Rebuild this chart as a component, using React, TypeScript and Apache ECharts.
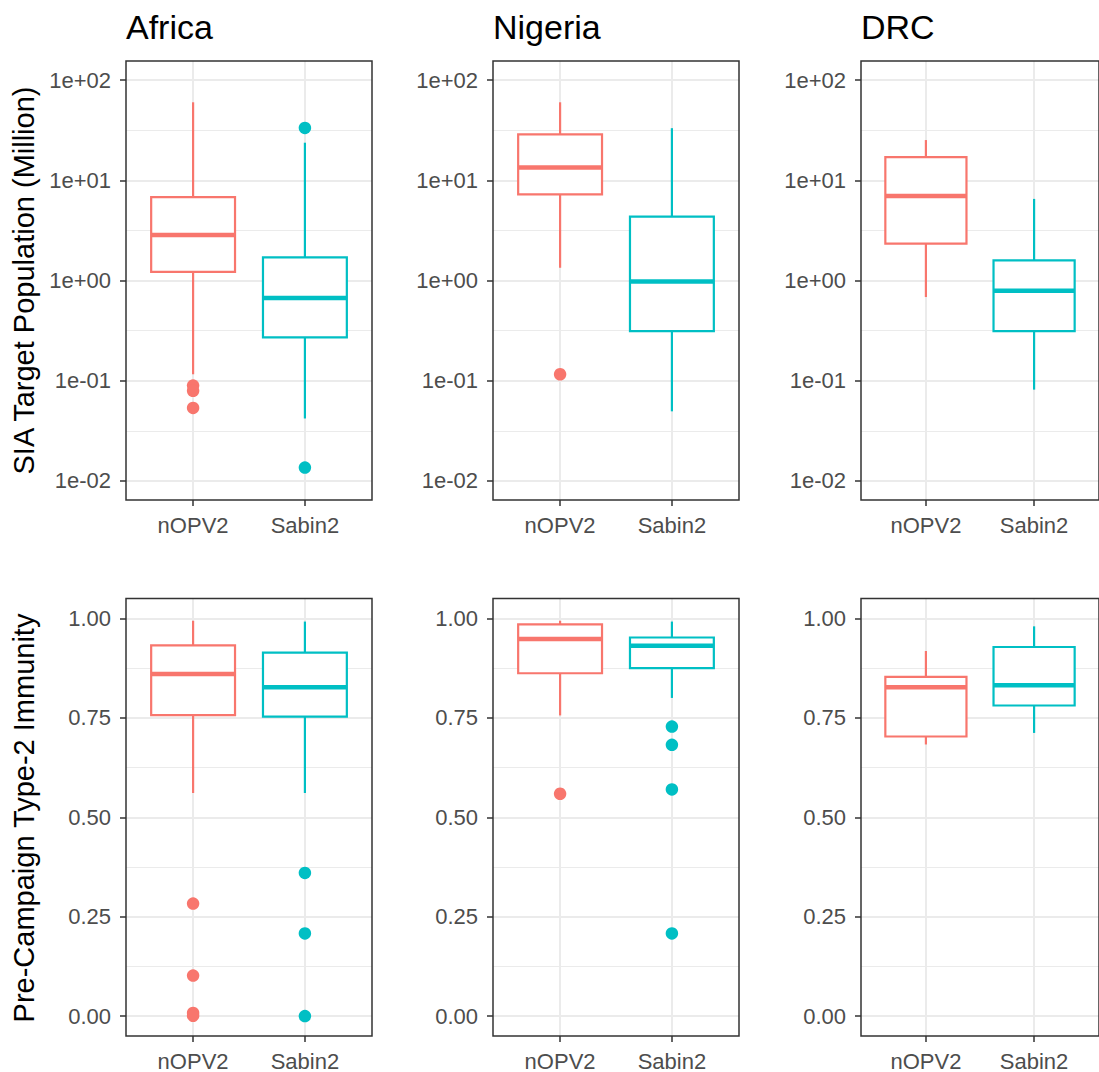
import React, { useEffect, useRef } from 'react';
import * as echarts from 'echarts';

// ---------- data ----------
const regions = ['Africa', 'Nigeria', 'DRC'];
const groups = ['nOPV2', 'Sabin2'];
const groupColors = ['#F8766D', '#00BFC4'];

// box stats: [lower whisker, Q1, median, Q3, upper whisker]
// SIA target population (million), log scale
const popAfricaNopv2 = [0.116, 1.22, 2.84, 6.8, 60];
const popAfricaSabin2 = [0.042, 0.271, 0.668, 1.7, 23.7];
const popNigeriaNopv2 = [1.34, 7.24, 13.4, 28.7, 60];
const popNigeriaSabin2 = [0.0495, 0.313, 0.977, 4.33, 33.1];
const popDrcNopv2 = [0.684, 2.33, 6.95, 17.0, 25.2];
const popDrcSabin2 = [0.0815, 0.313, 0.789, 1.585, 6.52];

const popOutAfricaNopv2 = [0.0895, 0.0794, 0.0535];
const popOutAfricaSabin2 = [33.3, 0.0136];
const popOutNigeriaNopv2 = [0.116];
const popOutNigeriaSabin2: number[] = [];
const popOutDrcNopv2: number[] = [];
const popOutDrcSabin2: number[] = [];

// pre-campaign type-2 immunity
const immAfricaNopv2 = [0.561, 0.757, 0.86, 0.932, 0.994];
const immAfricaSabin2 = [0.561, 0.753, 0.827, 0.914, 0.992];
const immNigeriaNopv2 = [0.756, 0.862, 0.948, 0.985, 0.994];
const immNigeriaSabin2 = [0.8, 0.875, 0.931, 0.952, 0.992];
const immDrcNopv2 = [0.683, 0.703, 0.827, 0.853, 0.918];
const immDrcSabin2 = [0.712, 0.781, 0.832, 0.928, 0.98];

const immOutAfricaNopv2 = [0.283, 0.102, 0.008, 0.001];
const immOutAfricaSabin2 = [0.36, 0.208, 0.0];
const immOutNigeriaNopv2 = [0.559];
const immOutNigeriaSabin2 = [0.728, 0.682, 0.57, 0.208];
const immOutDrcNopv2: number[] = [];
const immOutDrcSabin2: number[] = [];

const popTicks = [0.01, 0.1, 1, 10, 100];
const immTicks = [0, 0.25, 0.5, 0.75, 1];

const yTitles = ['SIA Target Population (Million)', 'Pre-Campaign Type-2 Immunity'];

// ---------- layout ----------
const FONT = "'Liberation Sans', Arial, Helvetica, sans-serif";
const COL_LEFT = [126, 493, 861];
const ROW_TOP = [61, 598.5];
const GRID_W = 246;
const GRID_H = 439;
const BOX_HALF = 0.375;

const panels = [
  { stats: [popAfricaNopv2, popAfricaSabin2], outs: [popOutAfricaNopv2, popOutAfricaSabin2], log: true },
  { stats: [popNigeriaNopv2, popNigeriaSabin2], outs: [popOutNigeriaNopv2, popOutNigeriaSabin2], log: true },
  { stats: [popDrcNopv2, popDrcSabin2], outs: [popOutDrcNopv2, popOutDrcSabin2], log: true },
  { stats: [immAfricaNopv2, immAfricaSabin2], outs: [immOutAfricaNopv2, immOutAfricaSabin2], log: false },
  { stats: [immNigeriaNopv2, immNigeriaSabin2], outs: [immOutNigeriaNopv2, immOutNigeriaSabin2], log: false },
  { stats: [immDrcNopv2, immDrcSabin2], outs: [immOutDrcNopv2, immOutDrcSabin2], log: false },
];

function fmtSci(v: number) {
  const e = Math.round(Math.log10(v));
  return '1e' + (e < 0 ? '-' : '+') + String(Math.abs(e)).padStart(2, '0');
}

function buildOption() {
  const grid: any[] = [];
  const xAxis: any[] = [];
  const yAxis: any[] = [];
  const series: any[] = [];
  const majorGrid = { show: true, lineStyle: { color: '#EBEBEB', width: 2 } };
  const tickStyle = { show: true, length: 6, lineStyle: { color: '#333333', width: 1.5 } };
  const labelStyle = { color: '#4D4D4D', fontSize: 22, fontFamily: FONT };

  panels.forEach((p, i) => {
    const row = Math.floor(i / 3);
    const col = i % 3;
    grid.push({
      left: COL_LEFT[col], top: ROW_TOP[row], width: GRID_W, height: GRID_H,
      show: true, borderColor: '#333333', borderWidth: 1.5, backgroundColor: 'transparent', z: 5,
    });
    xAxis.push({
      type: 'value', gridIndex: i, min: 0.4, max: 2.6, position: 'bottom',
      axisLine: { show: false, onZero: false },
      axisTick: { ...tickStyle, customValues: [1, 2] },
      axisLabel: { ...labelStyle, margin: 14, customValues: [1, 2], formatter: (v: number) => groups[Math.round(v) - 1] },
      splitLine: majorGrid,
    });
    const lo = p.log ? Math.pow(10, -2.19) : -0.05;
    const hi = p.log ? Math.pow(10, 2.19) : 1.05;
    const ticks = p.log ? popTicks : immTicks;
    const minor = p.log
      ? [-1.5, -0.5, 0.5, 1.5].map((e) => Math.pow(10, e))
      : [0.125, 0.375, 0.625, 0.875];
    yAxis.push({
      type: p.log ? 'log' : 'value', logBase: 10, gridIndex: i, min: lo, max: hi, position: 'left',
      axisLine: { show: false, onZero: false },
      axisTick: { ...tickStyle, customValues: ticks },
      axisLabel: {
        ...labelStyle, margin: 15, customValues: ticks,
        formatter: p.log ? (v: number) => fmtSci(v) : (v: number) => v.toFixed(2),
      },
      splitLine: majorGrid,
    });
    yAxis.push({
      type: p.log ? 'log' : 'value', logBase: 10, gridIndex: i, min: lo, max: hi, position: 'left',
      axisLine: { show: false, onZero: false },
      axisTick: { show: false, customValues: minor },
      axisLabel: { show: false },
      splitLine: { show: true, lineStyle: { color: '#EBEBEB', width: 1 } },
    });
    const yIdx = i * 2;
    series.push({
      type: 'custom', xAxisIndex: i, yAxisIndex: yIdx, z: 2,
      encode: { x: 0, y: [1, 2, 3, 4, 5] },
      data: p.stats.map((s, g) => [g + 1, ...s]),
      renderItem: (params: any, api: any) => {
        const x = api.value(0);
        const color = groupColors[params.dataIndex];
        const c = (xx: number, yy: number) => api.coord([xx, yy]);
        const pLo = c(x, api.value(1));
        const pQ1 = c(x, api.value(2));
        const pMed = c(x, api.value(3));
        const pQ3 = c(x, api.value(4));
        const pHi = c(x, api.value(5));
        const xl = c(x - BOX_HALF, api.value(3))[0];
        const xr = c(x + BOX_HALF, api.value(3))[0];
        const line = { stroke: color, lineWidth: 2.2 };
        return {
          type: 'group',
          children: [
            { type: 'line', shape: { x1: pHi[0], y1: pHi[1], x2: pQ3[0], y2: pQ3[1] }, style: line },
            { type: 'line', shape: { x1: pQ1[0], y1: pQ1[1], x2: pLo[0], y2: pLo[1] }, style: line },
            { type: 'rect', shape: { x: xl, y: pQ3[1], width: xr - xl, height: pQ1[1] - pQ3[1] }, style: { fill: '#FFFFFF', stroke: color, lineWidth: 2.2 } },
            { type: 'line', shape: { x1: xl, y1: pMed[1], x2: xr, y2: pMed[1] }, style: { stroke: color, lineWidth: 4.5 } },
          ],
        };
      },
    });
    p.outs.forEach((o, g) => {
      series.push({
        type: 'scatter', xAxisIndex: i, yAxisIndex: yIdx, z: 3,
        symbol: 'circle', symbolSize: 12.5,
        itemStyle: { color: groupColors[g], opacity: 1 },
        data: o.map((v) => [g + 1, v]),
      });
    });
  });

  const titles = regions.map((r, i) => ({
    text: r, left: COL_LEFT[i], top: 10, padding: 0,
    textStyle: { fontSize: 34, fontWeight: 'normal', color: '#000000', fontFamily: FONT },
  }));

  const graphic = yTitles.map((t, r) => ({
    type: 'text', x: 24, y: ROW_TOP[r] + GRID_H / 2, rotation: Math.PI / 2,
    style: { text: t, fill: '#000000', font: `29px ${FONT}`, align: 'center', verticalAlign: 'middle' },
  }));

  return {
    animation: false,
    backgroundColor: '#FFFFFF',
    title: titles,
    grid, xAxis, yAxis, series, graphic,
  };
}

export default function App() {
  const ref = useRef<HTMLDivElement>(null);
  useEffect(() => {
    document.body.style.margin = '0';
    if (!ref.current) return;
    const chart = echarts.init(ref.current, undefined, { renderer: 'svg' });
    chart.setOption(buildOption());
    return () => chart.dispose();
  }, []);
  return <div ref={ref} style={{ width: 1099, height: 1072 }} />;
}
